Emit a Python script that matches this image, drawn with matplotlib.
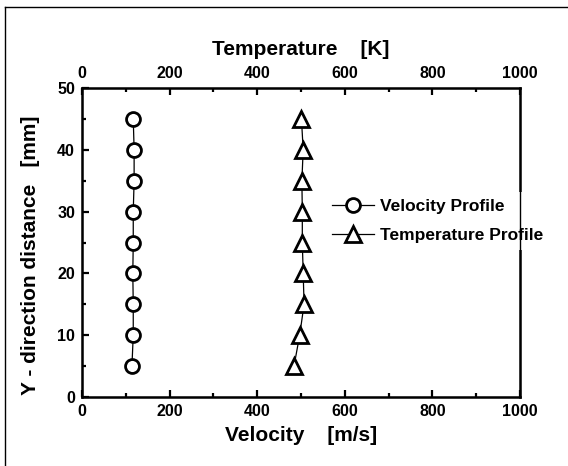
import matplotlib.pyplot as plt
from matplotlib.ticker import MultipleLocator
from matplotlib.lines import Line2D

plt.rcParams['font.family'] = ['Liberation Sans', 'DejaVu Sans']
plt.rcParams['font.weight'] = 'bold'

y_mm = [5, 10, 15, 20, 25, 30, 35, 40, 45]
velocity = [114, 117, 117, 116, 117, 117, 119, 119, 117]
temperature = [484, 497, 507, 505, 503, 503, 502, 505, 501]

fig = plt.figure(figsize=(5.68, 4.66), dpi=100)
ax = fig.add_axes([82 / 568, 1 - 397 / 466, 438 / 568, 309 / 466])

ax.plot(velocity, y_mm, color='black', lw=0.9, marker='o', ms=10,
        mfc='white', mec='black', mew=2.0, label='Velocity Profile')
ax.plot(temperature, y_mm, color='black', lw=0.9, marker='^', ms=11,
        mfc='white', mec='black', mew=2.0, label='Temperature Profile')

ax.set_xlim(0, 1000)
ax.set_ylim(0, 50)
ax.xaxis.set_major_locator(MultipleLocator(200))
ax.xaxis.set_minor_locator(MultipleLocator(100))
ax.yaxis.set_major_locator(MultipleLocator(10))
ax.yaxis.set_minor_locator(MultipleLocator(5))
ax.tick_params(which='both', direction='in', width=1.6, labelsize=11.5, pad=5)
ax.tick_params(which='major', length=5)
ax.tick_params(which='minor', length=3)
ax.tick_params(axis='y', right=False)
for s in ax.spines.values():
    s.set_linewidth(1.8)

ax.set_xlabel('Velocity    [m/s]', fontsize=15, fontweight='bold', labelpad=5)
ax.set_ylabel('Y - direction distance   [mm]', fontsize=15, fontweight='bold')
ax.yaxis.set_label_coords(-0.095, 0.46)

top = ax.twiny()
top.set_xlim(0, 1000)
top.xaxis.set_major_locator(MultipleLocator(200))
top.xaxis.set_minor_locator(MultipleLocator(100))
top.tick_params(which='both', direction='in', width=1.6, labelsize=11.5, pad=5)
top.tick_params(which='major', length=5)
top.tick_params(which='minor', length=3)
top.set_xlabel('Temperature    [K]', fontsize=15, fontweight='bold', labelpad=8)

leg = ax.legend(loc='center left', bbox_to_anchor=(0.555, 0.57), frameon=True,
                fontsize=12.5, handlelength=2.4, handletextpad=0.35,
                labelspacing=0.8, borderpad=0.4, borderaxespad=0)
leg.get_frame().set_edgecolor('none')
leg.get_frame().set_facecolor('white')
leg.set_zorder(10)

fig.add_artist(Line2D([5 / 568, 1], [1 - 7 / 466, 1 - 7 / 466], color='black', lw=1.0))
fig.add_artist(Line2D([5 / 568, 5 / 568], [0, 1 - 7 / 466], color='black', lw=1.0))

fig.savefig('out.png', dpi=100)
